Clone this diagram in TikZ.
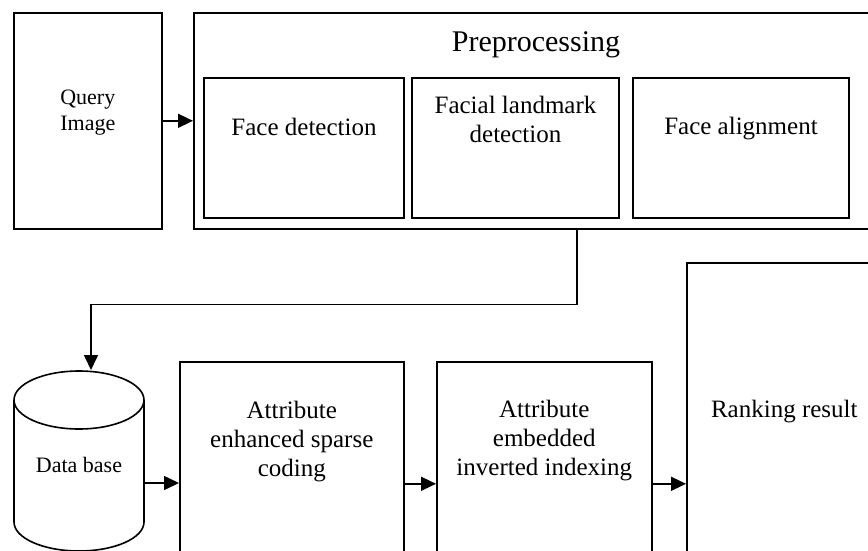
\documentclass[tikz,border=0pt]{standalone}
\usepackage{fontspec}
\setmainfont{Liberation Serif}
\usetikzlibrary{positioning, arrows.meta, calc}
\tikzset{every picture/.append style={line width=1.6pt}}

\begin{document}
\begin{tikzpicture}[x=1pt, y=-1pt,
    box/.style={draw, inner sep=0pt, anchor=north west},
    inbox/.style={box, line width=2pt, minimum height=140pt},
    lbl/.style={align=center, font=\fontsize{25}{29}\selectfont},
    small/.style={align=center, font=\fontsize{22}{26}\selectfont},
    arr/.style={-{Triangle[length=15pt, width=14pt]}}]
    % Frame (the figure is cut at the right and bottom)
    \useasboundingbox (0,0) rectangle (868,550);
    \clip (0,0) rectangle (868,550);

    % Query image
    \node[box, minimum width=148pt, minimum height=216pt] (qry) at (13,12) {};
    \node[small] (qrytxt) at ([yshift=8pt]qry.center) {Query\\Image};

    % Preprocessing block with its three steps
    \node[box, minimum width=766pt, minimum height=216pt] (pre) at (193,12) {};
    \node[font=\fontsize{30}{34}\selectfont] (pretxt) at (536,45) {Preprocessing};
    \node[inbox, minimum width=200pt] (fdet) at (203,77) {};
    \node[lbl] (fdettxt) at ([yshift=21pt]fdet.center) {Face detection};
    \node[inbox, minimum width=207pt] (flmk) at (411,77) {};
    \node[lbl] (flmktxt) at ([yshift=29pt]flmk.center) {Facial landmark\\detection};
    \node[inbox, minimum width=216pt] (falg) at (632,77) {};
    \node[lbl] (falgtxt) at ([yshift=19pt]falg.center) {Face alignment};

    % Data base (cylinder)
    \draw (79,400) ellipse [x radius=65pt, y radius=29pt];
    \draw (14,400) -- (14,522) arc[start angle=180, end angle=360, x radius=65pt, y radius=29pt] -- (144,400);
    \node[small, minimum width=130pt, inner sep=0pt] (db) at (79,465) {Data base};
    \coordinate (dbtop) at (91,370);

    % Lower chain
    \node[box, minimum width=224pt, minimum height=244pt] (aesc) at (179,361) {};
    \node[lbl] (aesctxt) at ([yshift=42pt]aesc.center) {Attribute\\enhanced sparse\\coding};
    \node[box, minimum width=215pt, minimum height=244pt] (aeii) at (436,361) {};
    \node[lbl] (aeiitxt) at ([yshift=43pt]aeii.center) {Attribute\\embedded\\inverted indexing};
    \node[box, minimum width=195pt, minimum height=442pt] (rank) at (686,262) {};
    \node[lbl] (ranktxt) at ([yshift=72pt]rank.center) {Ranking result};

    % Connectors
    \draw[arr] (qry.east) -- (pre.west);
    \draw[arr] (pre.south) -- ++(0,75) -| (dbtop);
    \draw[arr] ([yshift=-18pt]db.east) -- ([yshift=-18pt]db.east -| aesc.west);
    \draw[arr] (aesc.east) -- (aeii.west);
    \draw[arr] (aeii.east) -- (rank.west);
\end{tikzpicture}
\end{document}
